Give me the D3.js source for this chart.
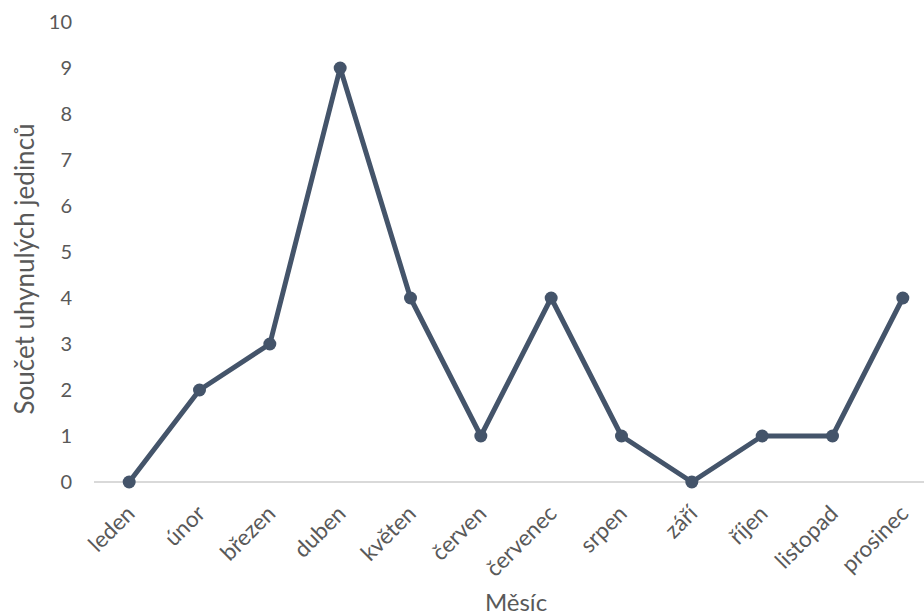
<!DOCTYPE html>
<html>
<head>
<meta charset="utf-8">
<script src="https://cdn.jsdelivr.net/npm/d3@7"></script>
<style>
  body { margin: 0; background: #fff; }
  svg { display: block; font-family: Lato, "Open Sans", sans-serif; }
</style>
</head>
<body>
<svg id="chart" width="924" height="616"></svg>
<script>
const months = ["leden", "únor", "březen", "duben", "květen", "červen", "červenec", "srpen", "září", "říjen", "listopad", "prosinec"];
const deaths = [0, 2, 3, 9, 4, 1, 4, 1, 0, 1, 1, 4];
const yTicks = [0, 1, 2, 3, 4, 5, 6, 7, 8, 9, 10];

const svg = d3.select("#chart");
const plot = { left: 94, right: 938, top: 22, bottom: 482 };

const x = d3.scaleBand().domain(months).range([plot.left, plot.right]);
const y = d3.scaleLinear().domain([0, 10]).range([plot.bottom, plot.top]);
const cx = d => x(d) + x.bandwidth() / 2;

const textColor = "#595959";
const font = "Lato, 'Open Sans', sans-serif";

// baseline
svg.append("line")
  .attr("x1", plot.left).attr("x2", plot.right)
  .attr("y1", y(0)).attr("y2", y(0))
  .attr("stroke", "#d9d9d9").attr("stroke-width", 2);

// y axis labels
const yAxis = d3.axisLeft(y).tickValues(yTicks).tickSize(0).tickPadding(0).tickFormat(d3.format("d"));
const gy = svg.append("g").attr("transform", "translate(72,0)").call(yAxis);
gy.select(".domain").remove();
gy.selectAll("text").attr("fill", textColor).style("font-size", "20px").attr("font-family", font);

// x axis labels, rotated
const xAxis = d3.axisBottom(x).tickSize(0).tickPadding(0);
const gx = svg.append("g").attr("transform", `translate(0,${y(0)})`).call(xAxis);
gx.select(".domain").remove();
gx.selectAll(".tick text")
  .attr("fill", textColor)
  .style("font-size", "22.5px")
  .attr("font-family", font)
  .attr("text-anchor", "end")
  .attr("dy", null)
  .attr("y", 0)
  .attr("transform", "translate(7,33) rotate(-45)");

// line
const line = d3.line().x((d, i) => cx(months[i])).y(d => y(d));
svg.append("path")
  .datum(deaths)
  .attr("d", line)
  .attr("fill", "none")
  .attr("stroke", "#44546A")
  .attr("stroke-width", 5)
  .attr("stroke-linejoin", "round");

svg.selectAll("circle.pt")
  .data(deaths)
  .join("circle")
  .attr("class", "pt")
  .attr("cx", (d, i) => cx(months[i]))
  .attr("cy", d => y(d))
  .attr("r", 6.5)
  .attr("fill", "#44546A");

// axis titles
svg.append("text")
  .attr("x", (plot.left + plot.right) / 2)
  .attr("y", 611)
  .attr("text-anchor", "middle")
  .attr("fill", textColor)
  .style("font-size", "24px")
  .text("Měsíc");

svg.append("text")
  .attr("transform", "translate(34,269) rotate(-90)")
  .attr("text-anchor", "middle")
  .attr("fill", textColor)
  .style("font-size", "26px")
  .text("Součet uhynulých jedinců");
</script>
</body>
</html>
